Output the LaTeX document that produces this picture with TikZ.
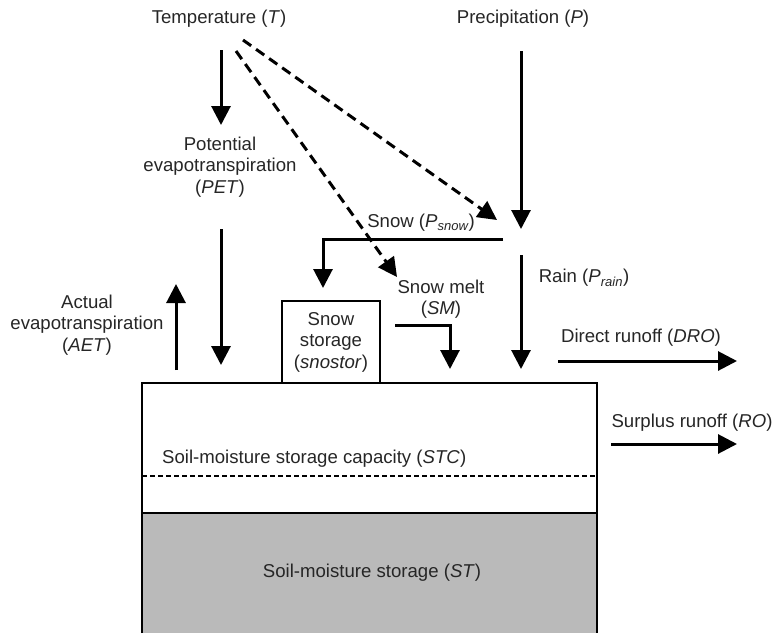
\documentclass[tikz,border=0pt]{standalone}
\usepackage{fontspec}
\setmainfont{Liberation Sans}
\usetikzlibrary{arrows.meta}
\tikzset{
    flow/.style={line width=3pt, -{Triangle[width=19pt,length=19pt]}},
    dflow/.style={flow, dash pattern=on 10pt off 6pt},
    lbl/.style={align=center, inner sep=0pt, font=\fontsize{18.6}{21.5}\selectfont, text=black!85},
}
\begin{document}
\begin{tikzpicture}[x=1pt,y=-1pt]
    \useasboundingbox (0,0) rectangle (774,633);
    % soil column
    \fill[black!27] (142,513) rectangle (597,633);
    \draw[line width=1.4pt] (142,633) -- (142,383) -- (597,383) -- (597,633);
    \draw[line width=1.4pt] (142,513) -- (597,513);
    \draw[line width=1.2pt, dash pattern=on 5pt off 3pt] (142,476) -- (597,476);
    \node[lbl, anchor=west] (stc) at (162,459) {Soil-moisture storage capacity (\textit{STC})};
    \node[lbl] (st) at (372,573) {Soil-moisture storage (\textit{ST})};
    % snow storage
    \node[lbl, draw, line width=1.1pt, minimum width=98pt, minimum height=82pt] (snostor) at (331,342)
        {Snow\\storage\\(\textit{snostor})};
    % labels
    \node[lbl] (temp) at (219,19) {Temperature (\textit{T})};
    \node[lbl] (precip) at (523,19) {Precipitation (\textit{P})};
    \node[lbl] (pet) at (220,167) {Potential\\evapotranspiration\\(\textit{PET})};
    \node[lbl] (aet) at (87,325) {Actual\\evapotranspiration\\(\textit{AET})};
    \node[lbl] (snow) at (421,223) {Snow (\textit{P}\textsubscript{\itshape snow})};
    \node[lbl] (melt) at (441,299) {Snow melt\\(\textit{SM})};
    \node[lbl] (rain) at (584,278) {Rain (\textit{P}\textsubscript{\itshape rain})};
    \node[lbl] (dro) at (641,338) {Direct runoff (\textit{DRO})};
    \node[lbl] (ro) at (692,423) {Surplus runoff (\textit{RO})};
    % arrow ends
    \coordinate (t1) at (221,50);   \coordinate (t2) at (221,125);
    \coordinate (t3) at (243,40);   \coordinate (t4) at (497,220);
    \coordinate (t5) at (236,51);   \coordinate (t6) at (397,277);
    \coordinate (p1) at (521,51);   \coordinate (p2) at (521,229);
    \coordinate (s1) at (503,239);  \coordinate (s2) at (323,288);
    \coordinate (r1) at (521,255);  \coordinate (r2) at (521,369);
    \coordinate (e1) at (221,229);  \coordinate (e2) at (221,365);
    \coordinate (a1) at (176,370);  \coordinate (a2) at (176,284);
    \coordinate (m1) at (395,325);  \coordinate (m2) at (450,369);
    \coordinate (d1) at (558,361);  \coordinate (d2) at (737,361);
    \coordinate (o1) at (611,444);  \coordinate (o2) at (737,444);
    % flows
    \draw[flow] (t1) -- (t2);
    \draw[dflow] (t3) -- (t4);
    \draw[dflow] (t5) -- (t6);
    \draw[flow] (p1) -- (p2);
    \draw[flow] (s1) -| (s2);
    \draw[flow] (r1) -- (r2);
    \draw[flow] (e1) -- (e2);
    \draw[flow] (a1) -- (a2);
    \draw[flow] (m1) -| (m2);
    \draw[flow] (d1) -- (d2);
    \draw[flow] (o1) -- (o2);
\end{tikzpicture}
\end{document}
